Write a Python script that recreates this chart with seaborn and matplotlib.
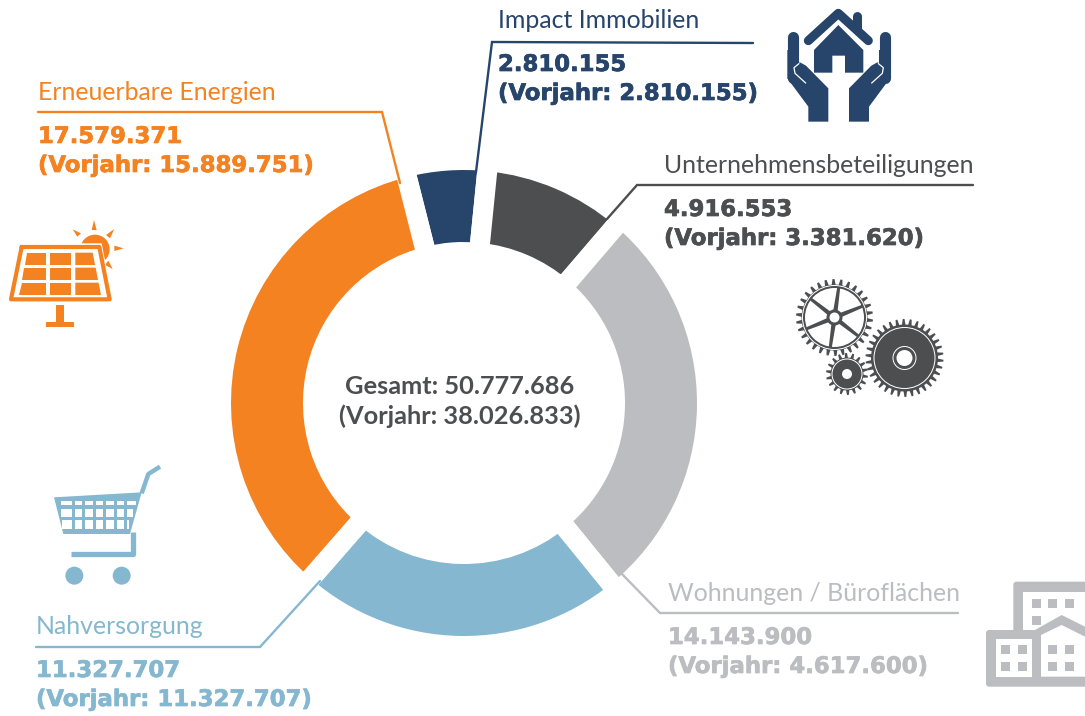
import numpy as np
import matplotlib
matplotlib.use("Agg")
import matplotlib.pyplot as plt
import matplotlib.patheffects as pe
from matplotlib.patches import Circle, Polygon, Rectangle, FancyBboxPatch
import seaborn as sns

categories = ["Impact Immobilien", "Unternehmensbeteiligungen", "Wohnungen / Büroflächen",
              "Nahversorgung", "Erneuerbare Energien"]
values = [2810155, 4916553, 14143900, 11327707, 17579371]
value_labels = ["2.810.155", "4.916.553", "14.143.900", "11.327.707", "17.579.371"]
prior_labels = ["(Vorjahr: 2.810.155)", "(Vorjahr: 3.381.620)", "(Vorjahr: 4.617.600)",
                "(Vorjahr: 11.327.707)", "(Vorjahr: 15.889.751)"]
total_labels = ["Gesamt: 50.777.686", "(Vorjahr: 38.026.833)"]
colors = ["#27456B", "#4D4E50", "#BBBDC0", "#85B8D0", "#F58220"]

sns.set_theme(style="white")
plt.rcParams["font.family"] = ["Lato", "DejaVu Sans"]

W, H = 1085, 716
fig = plt.figure(figsize=(W / 100, H / 100), dpi=100, facecolor="white")

# donut
CX, CY, R = 464, 403, 243
side = 2 * 1.25 * R
pie_ax = fig.add_axes([(CX - side / 2) / W, 1 - (CY + side / 2) / H, side / W, side / H])
pie_ax.pie(values, colors=colors, startangle=104.2, counterclock=False,
           wedgeprops=dict(width=92 / R, edgecolor="white", linewidth=14.4))

# overlay in pixel coordinates
ax = fig.add_axes([0, 0, 1, 1], facecolor="none")
ax.set_xlim(0, W)
ax.set_ylim(H, 0)
ax.axis("off")

# leaders
leaders = [
    [(476, 172), (492, 42), (753, 43)],
    [(607, 219), (637, 185), (973, 185)],
    [(620, 572), (660, 613), (958, 613)],
    [(320, 581), (260, 647), (36, 647)],
    [(400, 183), (382, 112), (38, 112)],
]
for pts, c in zip(leaders, colors):
    xs, ys = zip(*pts)
    ax.plot(xs, ys, color=c, lw=1.7, solid_joinstyle="miter")

# labels
label_pos = [(498, 28), (664, 173), (668, 601), (36, 634), (38, 100)]
LABEL_FS, BOLD_FS = 17.9, 16.4
for (x, y), name, val, prior, c in zip(label_pos, categories, value_labels, prior_labels, colors):
    ax.text(x, y, name, color=c, fontsize=LABEL_FS, va="baseline", ha="left", family=["Lato", "DejaVu Sans"])
    for dy, s in ((43, val), (72, prior)):
        t = ax.text(x, y + dy, s, color=c, fontsize=BOLD_FS, fontweight="bold", va="baseline", family=["DejaVu Sans"])
        t.set_path_effects([pe.withStroke(linewidth=0.5, foreground=c)])
ax.text(460, 394, total_labels[0], color="#4D4E50", fontsize=18.3, fontweight="bold", ha="center", va="baseline", family=["Lato"])
ax.text(460, 424, total_labels[1], color="#4D4E50", fontsize=18.3, fontweight="bold", ha="center", va="baseline", family=["Lato"])


def poly(pts, ox, oy, c, s=1 / 3, **kw):
    ax.add_patch(Polygon([(ox + x * s, oy + y * s) for x, y in pts], closed=True, fc=c, ec="none", **kw))


def line(pts, ox, oy, c, lw, cap="round", s=1 / 3):
    xs = [ox + p[0] * s for p in pts]
    ys = [oy + p[1] * s for p in pts]
    ax.plot(xs, ys, color=c, lw=lw, solid_capstyle=cap, solid_joinstyle="round")


# hands and house icon
NAVY = colors[0]
ox, oy = 770, 0
for mir in (False, True):
    f = (lambda x: 412 - x) if mir else (lambda x: x)
    line([(f(68), 112), (f(68), 235)], ox, oy, NAVY, 8, "round")
    poly([(f(x), y) for x, y in [(52, 235), (115, 320), (115, 365), (175, 365), (175, 265), (108, 197),
                                 (90, 187), (75, 195), (68, 212), (85, 235)]], ox, oy, NAVY)
    poly([(f(x), y) for x, y in [(52, 150), (85, 150), (85, 235), (60, 245), (52, 235)]], ox, oy, NAVY)
    line([(f(88), 190), (f(72), 203), (f(75), 220), (f(108), 250)], ox, oy, "white", 0.9, "butt")
line([(115, 122), (205, 40), (295, 122)], ox, oy, NAVY, 6.5)
line([(262, 47), (262, 85)], ox, oy, NAVY, 6.5)
poly([(132, 150), (205, 75), (280, 150), (280, 218), (225, 218), (225, 167), (187, 167), (187, 218), (132, 218)],
     ox, oy, NAVY)

# solar icon
ORANGE = colors[4]
ox, oy = 0, 210
ax.add_patch(Circle((ox + 285 / 3, oy + 118 / 3), 44 / 3, fc=ORANGE, ec="none"))
for tri in [[(275, 60), (290, 60), (282, 30)], [(318, 75), (330, 85), (343, 57)], [(343, 107), (343, 123), (371, 115)],
            [(315, 165), (325, 152), (338, 177)], [(243, 70), (232, 80), (218, 58)]]:
    poly(tri, ox, oy, ORANGE)
poly([(62, 100), (305, 100), (340, 278), (22, 278)], ox, oy, "white")
line([(65, 111), (298, 111), (329, 268), (33, 268), (65, 111)], ox, oy, ORANGE, 3)
rows = [(128, 165), (173, 210), (218, 255)]
for top, bot in rows:
    def lx(y):
        return 82 + (y - 128) * (58 - 82) / (255 - 128)
    def rx(y):
        return 278 + (y - 128) * (303 - 278) / (255 - 128)
    poly([(lx(top), top), (137, top), (137, bot), (lx(bot), bot)], ox, oy, ORANGE)
    poly([(150, top), (213, top), (213, bot), (150, bot)], ox, oy, ORANGE)
    poly([(226, top), (rx(top), top), (rx(bot), bot), (226, bot)], ox, oy, ORANGE)
poly([(168, 285), (192, 285), (192, 335), (222, 335), (222, 350), (138, 350), (138, 335), (168, 335)], ox, oy, ORANGE)


# gear icon
def gear(cx, cy, r_out, r_root, n, c):
    th = np.linspace(0, 2 * np.pi, n * 4, endpoint=False)
    rad = np.tile([r_root, r_out, r_out, r_root], n)
    th = th + np.tile([0.1, 0, 0, -0.1], n) * 2 * np.pi / n
    ax.add_patch(Polygon(np.c_[cx + rad * np.cos(th), cy + rad * np.sin(th)], closed=True, fc=c, ec="none"))


def disc(cx, cy, r, c):
    ax.add_patch(Circle((cx, cy), r, fc=c, ec="none"))


DARK = colors[1]
gx, gy = 834.5, 317.5
gear(gx, gy, 38.5, 33, 30, DARK)
disc(gx, gy, 32.5, "white")
disc(gx, gy, 31.5, DARK)
disc(gx, gy, 29.5, "white")
for k in range(6):
    a = np.deg2rad(-82 + 60 * k)
    n = np.array([-np.sin(a), np.cos(a)])
    d = np.array([np.cos(a), np.sin(a)])
    c0 = np.array([gx, gy])
    ax.add_patch(Polygon([c0 + d * 6 + n * 2.2, c0 + d * 30 + n * 1.5, c0 + d * 30 - n * 1.5, c0 + d * 6 - n * 2.2],
                         closed=True, fc=DARK, ec="none"))
disc(gx, gy, 8, DARK)
disc(gx, gy, 5, "white")

gx, gy = 847, 374
gear(gx, gy, 21, 16.5, 18, DARK)
disc(gx, gy, 15.5, "white")
disc(gx, gy, 14.5, DARK)
disc(gx, gy, 5, "white")

gx, gy = 904.5, 358
gear(gx, gy, 39, 33.5, 34, DARK)
disc(gx, gy, 31, "white")
disc(gx, gy, 30, DARK)
disc(gx, gy, 12, "white")
disc(gx, gy, 11, DARK)
disc(gx, gy, 8, "white")

# cart icon
BLUE = colors[3]
ox, oy = 40, 460
poly([(42, 112), (305, 97), (270, 222), (70, 222)], ox, oy, BLUE)
line([(305, 100), (325, 42), (360, 20)], ox, oy, BLUE, 3.2, "butt")
line([(278, 215), (278, 282), (93, 282)], ox, oy, BLUE, 3.8, "butt")
cols = [(62, 95), (104, 126), (136, 158), (168, 190), (199, 222), (230, 252), (262, 292)]
grows = [(122, 135), (147, 172), (180, 206)]
for i, (t, b) in enumerate(grows):
    for l, r in cols:
        ll = l + (t - 122) * 0.07 if l == 62 else l
        rr = r - (b - 122) * 0.28 if r == 292 else r
        poly([(ll, t), (rr, t), (rr, b), (ll, b)], ox, oy, "white")
disc(ox + 103 / 3, oy + 347 / 3, 9, BLUE)
disc(ox + 245 / 3, oy + 347 / 3, 9, BLUE)

# building icon
GRAY = colors[2]
ox, oy = 975, 570
S = 1 / 3


def rbox(x0, y0, x1, y1, c, rad=3):
    ax.add_patch(FancyBboxPatch((ox + x0 * S, oy + y0 * S), (x1 - x0) * S, (y1 - y0) * S,
                                boxstyle=f"round,pad=0,rounding_size={rad}", fc=c, ec="none"))


def rect(x0, y0, x1, y1, c):
    ax.add_patch(Rectangle((ox + x0 * S, oy + y0 * S), (x1 - x0) * S, (y1 - y0) * S, fc=c, ec="none"))


rbox(115, 35, 345, 250, GRAY)
rect(145, 65, 330, 190, "white")
rbox(33, 180, 345, 350, GRAY)
poly([(180, 180), (260, 135), (330, 170), (330, 200), (180, 200)], ox, oy, GRAY)
rect(62, 207, 170, 320, "white")
poly([(198, 195), (260, 165), (330, 200), (330, 320), (198, 320)], ox, oy, "white")
for x0, y0 in [(170, 87), (220, 87), (270, 87), (170, 137), (78, 225), (128, 225), (78, 275), (128, 275),
               (220, 225), (270, 225), (220, 275), (270, 275)]:
    rect(x0, y0, x0 + 27, y0 + 27, GRAY)

fig.savefig("out.png", dpi=100)
